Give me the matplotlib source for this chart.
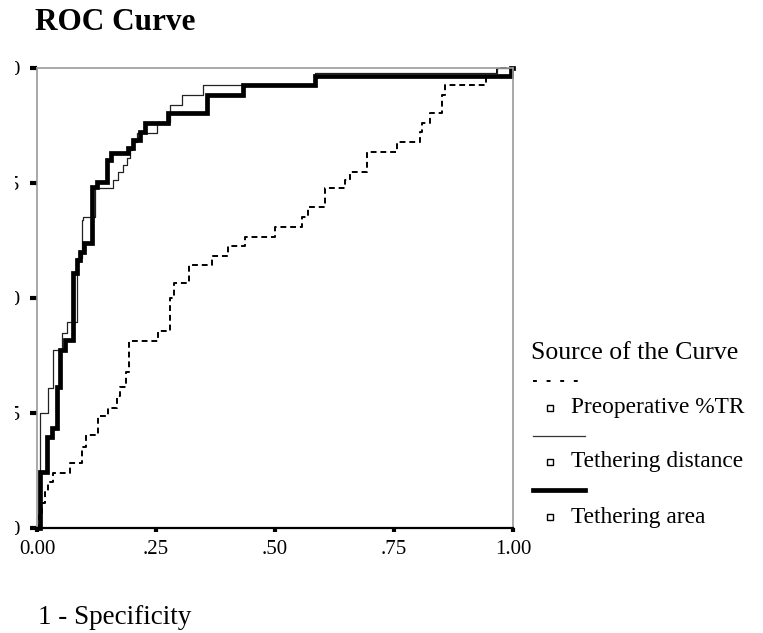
import matplotlib
matplotlib.use('Agg')
import matplotlib.pyplot as plt
from matplotlib.lines import Line2D
from matplotlib.patches import Rectangle

plt.rcParams['font.family'] = ['Liberation Serif', 'DejaVu Serif']

# ROC step points (1 - specificity, sensitivity)
tr_fpr = [0.000, 0.004, 0.011, 0.017, 0.023, 0.034, 0.069, 0.095, 0.103, 0.128,
          0.149, 0.168, 0.174, 0.187, 0.193, 0.254, 0.279, 0.288, 0.319, 0.368,
          0.401, 0.437, 0.500, 0.557, 0.569, 0.605, 0.647, 0.658, 0.693, 0.756,
          0.805, 0.809, 0.826, 0.851, 0.857, 0.943, 0.966, 1.000]
tr_tpr = [0.000, 0.028, 0.054, 0.078, 0.100, 0.120, 0.141, 0.176, 0.202, 0.243,
          0.261, 0.287, 0.307, 0.339, 0.407, 0.428, 0.500, 0.533, 0.572, 0.591,
          0.613, 0.633, 0.654, 0.676, 0.698, 0.739, 0.757, 0.774, 0.817, 0.839,
          0.861, 0.880, 0.902, 0.941, 0.963, 0.983, 1.000, 1.000]

dist_fpr = [0.000, 0.006, 0.023, 0.034, 0.053, 0.063, 0.084, 0.095, 0.097, 0.122,
            0.160, 0.170, 0.181, 0.189, 0.195, 0.200, 0.210, 0.252, 0.279, 0.305,
            0.349, 0.584, 0.966, 1.000]
dist_tpr = [0.000, 0.250, 0.304, 0.387, 0.424, 0.448, 0.587, 0.670, 0.676, 0.739,
            0.757, 0.774, 0.789, 0.804, 0.822, 0.839, 0.859, 0.883, 0.920, 0.941,
            0.963, 0.989, 1.000, 1.000]

area_fpr = [0.000, 0.006, 0.021, 0.032, 0.042, 0.048, 0.059, 0.076, 0.084, 0.090,
            0.099, 0.116, 0.126, 0.147, 0.156, 0.191, 0.202, 0.216, 0.227, 0.275,
            0.357, 0.433, 0.584, 0.996, 1.000]
area_tpr = [0.000, 0.122, 0.198, 0.217, 0.307, 0.387, 0.409, 0.554, 0.583, 0.600,
            0.620, 0.741, 0.752, 0.800, 0.815, 0.826, 0.843, 0.861, 0.880, 0.902,
            0.941, 0.963, 0.983, 1.000, 1.000]

ticks = [0, 0.25, 0.5, 0.75, 1.0]
tick_labels = ['0.00', '.25', '.50', '.75', '1.00']
labels = ['Preoperative %TR', 'Tethering distance', 'Tethering area']

W, H = 763, 633
fig = plt.figure(figsize=(W / 100, H / 100), dpi=100)
ax = fig.add_axes([37 / W, 1 - 528 / H, 476 / W, 460 / H])

ax.step(tr_fpr, tr_tpr, where='post', color='black', lw=1.4,
        linestyle=(0, (3, 2)), clip_on=False)
ax.step(dist_fpr, dist_tpr, where='post', color='#222222', lw=0.9, clip_on=False)
ax.step(area_fpr, area_tpr, where='post', color='black', lw=3.4, clip_on=False,
        solid_joinstyle='miter')

ax.set_xlim(0, 1)
ax.set_ylim(0, 1)
ax.set_xticks(ticks)
ax.set_xticklabels(tick_labels)
ax.set_yticks(ticks)
ax.set_yticklabels(tick_labels)
ax.tick_params(axis='x', direction='out', length=3, width=3, pad=6, labelsize=15)
ax.tick_params(axis='y', direction='out', length=5, width=3, pad=7, labelsize=15)

for side in ['top', 'right', 'left']:
    ax.spines[side].set_color('#9a9a9a')
    ax.spines[side].set_linewidth(1.2)
ax.spines['bottom'].set_color('black')
ax.spines['bottom'].set_linewidth(1.6)

fig.text(35 / W, 1 - 22 / H, 'ROC Curve', fontsize=22.5, fontweight='bold',
         ha='left', va='center')
fig.text(38 / W, 1 - 618 / H, '1 - Specificity', fontsize=19.5,
         ha='left', va='center')

# legend block on the right
fig.text(531 / W, 1 - 353 / H, 'Source of the Curve', fontsize=18.5,
         ha='left', va='center')
samples = [
    (381, dict(color='black', lw=1.4, linestyle=(0, (2, 5)))),
    (436, dict(color='#333333', lw=0.9)),
    (490, dict(color='black', lw=3.4)),
]
text_y = [408, 462, 517]
for (sy, style), ty, lab in zip(samples, text_y, labels):
    fig.add_artist(Line2D([533 / W, 585 / W], [1 - sy / H, 1 - sy / H],
                          transform=fig.transFigure, **style))
    fig.add_artist(Line2D([550 / W], [1 - ty / H], transform=fig.transFigure,
                          marker='s', markersize=5, markerfacecolor='white',
                          markeredgecolor='black', markeredgewidth=1,
                          linestyle='none'))
    fig.text(571 / W, 1 - ty / H, lab, fontsize=16.8, ha='left', va='center')

# the source image is cropped on the left
fig.add_artist(Rectangle((0, 0), 15 / W, 1, transform=fig.transFigure,
                         facecolor='white', edgecolor='none', zorder=10))

fig.savefig('out.png', dpi=100)
